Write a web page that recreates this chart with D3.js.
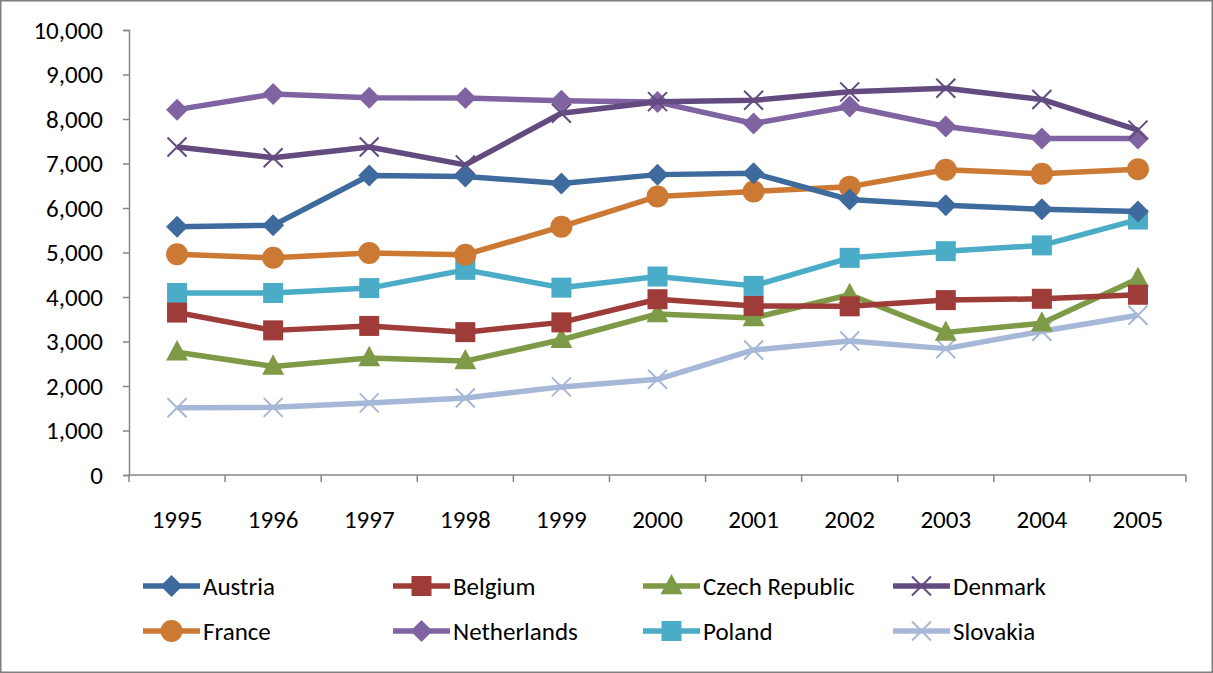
<!DOCTYPE html>
<html>
<head>
<meta charset="utf-8">
<script src="https://cdn.jsdelivr.net/npm/d3@7"></script>
<style>
  html, body { margin: 0; padding: 0; background: #fff; }
  svg { display: block; font-family: Carlito, Lato, "Open Sans", sans-serif; }
</style>
</head>
<body>
<div id="chart"></div>
<script>
const years = ["1995", "1996", "1997", "1998", "1999", "2000", "2001", "2002", "2003", "2004", "2005"];
const yTicks = [0, 1000, 2000, 3000, 4000, 5000, 6000, 7000, 8000, 9000, 10000];

const austria     = [5580, 5610, 6730, 6710, 6550, 6750, 6780, 6190, 6060, 5970, 5920];
const belgium     = [3650, 3250, 3350, 3210, 3430, 3950, 3800, 3790, 3930, 3960, 4050];
const czech       = [2760, 2440, 2630, 2560, 3040, 3620, 3530, 4050, 3200, 3410, 4410];
const denmark     = [7370, 7130, 7370, 6970, 8130, 8390, 8420, 8610, 8690, 8440, 7750];
const france      = [4960, 4880, 4990, 4950, 5580, 6260, 6370, 6480, 6860, 6770, 6870];
const netherlands = [8210, 8560, 8480, 8470, 8410, 8380, 7900, 8280, 7830, 7560, 7560];
const poland      = [4090, 4090, 4200, 4610, 4210, 4460, 4250, 4880, 5030, 5160, 5740];
const slovakia    = [1510, 1520, 1620, 1730, 1980, 2150, 2810, 3010, 2840, 3230, 3590];

const series = [
  { name: "Austria", values: austria, color: "#3e6a9d", marker: "diamond" },
  { name: "Belgium", values: belgium, color: "#9d3c39", marker: "square" },
  { name: "Czech Republic", values: czech, color: "#7e9a46", marker: "triangle" },
  { name: "Denmark", values: denmark, color: "#634b80", marker: "x" },
  { name: "France", values: france, color: "#cc7934", marker: "circle" },
  { name: "Netherlands", values: netherlands, color: "#8063a1", marker: "diamond" },
  { name: "Poland", values: poland, color: "#4aacc6", marker: "square" },
  { name: "Slovakia", values: slovakia, color: "#a6b7d7", marker: "x" }
];

const W = 1213, H = 673;
const fontSize = 25;
const svg = d3.select("#chart").append("svg").attr("width", W).attr("height", H);

// outer frame
svg.append("rect").attr("x", 0.75).attr("y", 0.75).attr("width", W - 1.5).attr("height", H - 1.5)
  .attr("fill", "#fff").attr("stroke", "#7f7f7f").attr("stroke-width", 1.5);

const plotLeft = 129, plotRight = 1186, plotTop = 30, plotBottom = 475;
const x = d3.scaleBand().domain(years).range([plotLeft, plotRight]).padding(0);
const cx = d => x(d) + x.bandwidth() / 2;
const y = d3.scaleLinear().domain([0, 10000]).range([plotBottom, plotTop]);

const axisColor = "#868686";

// y axis
const yAxis = svg.append("g").attr("transform", `translate(${plotLeft},0)`)
  .call(d3.axisLeft(y).tickValues(yTicks).tickSize(6).tickPadding(20).tickFormat(d3.format(",")));
yAxis.select(".domain").attr("stroke", axisColor).attr("stroke-width", 1.5);
yAxis.selectAll(".tick line").attr("stroke", axisColor).attr("stroke-width", 1.5);
yAxis.selectAll(".tick text").attr("font-size", fontSize).attr("fill", "#000")
  .attr("font-family", "Carlito, Lato, sans-serif");

// x axis
const xg = svg.append("g");
xg.append("line").attr("x1", plotLeft).attr("x2", plotRight).attr("y1", plotBottom).attr("y2", plotBottom)
  .attr("stroke", axisColor).attr("stroke-width", 1.5);
xg.selectAll(".xt").data(years.concat(["end"])).enter().append("line")
  .attr("x1", d => d === "end" ? plotRight : x(d)).attr("x2", d => d === "end" ? plotRight : x(d))
  .attr("y1", plotBottom).attr("y2", plotBottom + 7)
  .attr("stroke", axisColor).attr("stroke-width", 1.5);
xg.selectAll(".xl").data(years).enter().append("text")
  .attr("x", d => cx(d)).attr("y", 519).attr("dy", "0.35em")
  .attr("text-anchor", "middle").attr("font-size", fontSize).text(d => d);

function drawMarker(g, type, color, px, py) {
  if (type === "diamond") {
    const r = 11;
    g.append("path").attr("d", `M${px},${py - r}L${px + r},${py}L${px},${py + r}L${px - r},${py}Z`).attr("fill", color);
  } else if (type === "square") {
    const r = 10;
    g.append("rect").attr("x", px - r).attr("y", py - r).attr("width", 2 * r).attr("height", 2 * r).attr("fill", color);
  } else if (type === "triangle") {
    const r = 11;
    g.append("path").attr("d", `M${px},${py - r * 1.1}L${px + r},${py + r * 0.75}L${px - r},${py + r * 0.75}Z`).attr("fill", color);
  } else if (type === "circle") {
    g.append("circle").attr("cx", px).attr("cy", py).attr("r", 11).attr("fill", color);
  } else if (type === "x") {
    const r = 9.5;
    g.append("path").attr("d", `M${px - r},${py - r}L${px + r},${py + r}M${px - r},${py + r}L${px + r},${py - r}`)
      .attr("stroke", color).attr("stroke-width", 2).attr("fill", "none");
  }
}

const line = d3.line().x((d, i) => cx(years[i])).y(d => y(d));

// draw in reverse so Austria ends on top
series.slice().reverse().forEach(s => {
  const g = svg.append("g");
  g.append("path").datum(s.values).attr("d", line).attr("fill", "none")
    .attr("stroke", s.color).attr("stroke-width", 5.5).attr("stroke-linejoin", "round");
  s.values.forEach((v, i) => drawMarker(g, s.marker, s.color, cx(years[i]), y(v)));
});

// legend
const leg = svg.append("g");
series.forEach((s, i) => {
  const col = i % 4, row = Math.floor(i / 4);
  const lx = 143 + col * 250, ly = 586 + row * 45;
  const g = leg.append("g");
  g.append("line").attr("x1", lx).attr("x2", lx + 57).attr("y1", ly).attr("y2", ly)
    .attr("stroke", s.color).attr("stroke-width", 5.5);
  drawMarker(g, s.marker, s.color, lx + 28.5, ly);
  g.append("text").attr("x", lx + 60).attr("y", ly).attr("dy", "0.35em")
    .attr("font-size", fontSize).text(s.name);
});
</script>
</body>
</html>
